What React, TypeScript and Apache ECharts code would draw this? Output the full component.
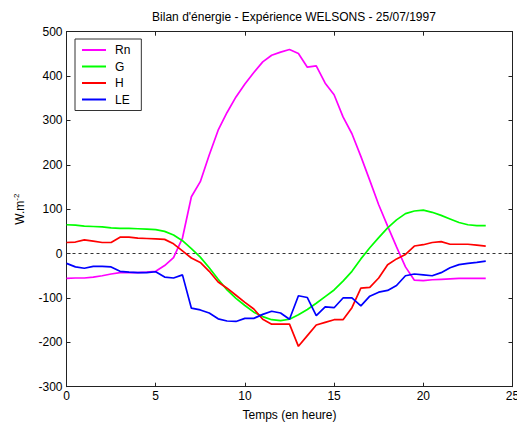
import { useEffect, useRef } from "react";
import * as echarts from "echarts";

const TIME = [
  0, 0.5, 1, 1.5, 2, 2.5, 3, 3.5, 4, 4.5, 5, 5.5, 6, 6.5, 7, 7.5, 8, 8.5, 9, 9.5,
  10, 10.5, 11, 11.5, 12, 12.5, 13, 13.5, 14, 14.5, 15, 15.5, 16, 16.5, 17, 17.5,
  18, 18.5, 19, 19.5, 20, 20.5, 21, 21.5, 22, 22.5, 23, 23.5,
];

const RN = [
  -56, -55, -55, -53, -50, -46, -43, -43, -43, -42, -40, -27, -9, 35, 128, 162,
  222, 278, 318, 353, 382, 408, 432, 447, 454, 460, 451, 420, 423, 384, 358, 308,
  270, 219, 165, 110, 62, 15, -30, -60, -61, -59, -58, -57, -56, -56, -56, -56,
];

const G = [
  65, 64, 62, 61, 60, 58, 57, 57, 56, 55, 54, 50, 42, 29, 11, -8, -32, -58, -82,
  -101, -117, -132, -142, -149, -151, -148, -138, -126, -112, -97, -82, -62, -40,
  -12, 13, 36, 58, 76, 90, 96, 98, 93, 86, 78, 70, 65, 63, 63,
];

const H = [
  25, 26, 31, 28, 25, 25, 37, 37, 35, 34, 33, 32, 22, 6, -10, -20, -40, -64, -78,
  -94, -110, -125, -148, -159, -159, -159, -209, -185, -161, -155, -149, -149,
  -122, -78, -76, -55, -25, -12, -2, 17, 20, 25, 27, 21, 21, 21, 19, 17,
];

const LE = [
  -22, -30, -33, -29, -29, -30, -40, -42, -43, -43, -41, -53, -55, -48, -123,
  -127, -134, -147, -152, -153, -146, -146, -137, -130, -134, -148, -95, -99,
  -140, -120, -122, -100, -100, -118, -96, -87, -83, -72, -50, -46, -48, -50,
  -43, -32, -25, -22, -20, -17,
];

const X_TICKS = [0, 5, 10, 15, 20, 25];
const Y_TICKS = [-300, -200, -100, 0, 100, 200, 300, 400, 500];

const FONT = "Liberation Sans";

export default function App() {
  const ref = useRef<HTMLDivElement>(null);
  useEffect(() => {
    const chart = echarts.init(ref.current!, null, { renderer: "svg" });
    const mk = (name: string, color: string, vals: number[], extra: any = {}) => ({
      type: "line",
      name,
      data: TIME.map((t, i) => [t, vals[i]]),
      symbol: "none",
      showSymbol: false,
      lineStyle: { color, width: 1.7 },
      itemStyle: { color },
      z: 3,
      ...extra,
    });
    const axisCommon = {
      axisLine: { show: true, onZero: false, lineStyle: { color: "#222", width: 1 } },
      axisTick: { show: true, inside: true, length: 4, lineStyle: { color: "#222" } },
      splitLine: { show: false },
    };
    chart.setOption({
      animation: false,
      backgroundColor: "#fff",
      title: {
        text: "Bilan d'énergie - Expérience WELSONS - 25/07/1997",
        left: 289,
        textAlign: "center",
        top: 6,
        textStyle: { fontFamily: FONT, fontSize: 12, fontWeight: "normal", color: "#000" },
      },
      legend: {
        left: 75,
        top: 39,
        orient: "vertical",
        data: ["Rn", "G", "H", "LE"],
        icon: "rect",
        borderColor: "#333",
        borderWidth: 1,
        padding: [4, 11, 4, 7],
        itemWidth: 24,
        itemHeight: 2,
        itemGap: 2.5,
        backgroundColor: "#fff",
        textStyle: {
          fontFamily: FONT,
          fontSize: 12,
          lineHeight: 14,
          color: "#000",
          padding: [0, 0, 0, 4],
        },
      },
      grid: {
        left: 66.5,
        right: 4.5,
        top: 31.7,
        bottom: 36.3,
        containLabel: false,
        outerBoundsMode: "none",
      },
      xAxis: [
        {
          type: "value",
          min: 0,
          max: 25,
          interval: 5,
          position: "bottom",
          ...axisCommon,
          axisLabel: {
            fontFamily: FONT,
            fontSize: 12,
            color: "#000",
            margin: 3,
            customValues: X_TICKS,
          },
          name: "Temps (en heure)",
          nameLocation: "middle",
          nameGap: 22,
          nameTextStyle: { fontFamily: FONT, fontSize: 12, color: "#000" },
        },
        {
          type: "value",
          min: 0,
          max: 25,
          interval: 5,
          position: "top",
          ...axisCommon,
          axisLabel: { show: false },
        },
      ],
      yAxis: [
        {
          type: "value",
          min: -300,
          max: 500,
          interval: 100,
          position: "left",
          ...axisCommon,
          axisLabel: {
            fontFamily: FONT,
            fontSize: 12,
            color: "#000",
            margin: 4,
            customValues: Y_TICKS,
          },
          name: "W.m{sup|-2}",
          nameLocation: "middle",
          nameGap: 40,
          nameRotate: 90,
          nameTextStyle: {
            fontFamily: FONT,
            fontSize: 12,
            color: "#000",
            rich: {
              sup: { fontFamily: FONT, fontSize: 8, color: "#000", verticalAlign: "top", padding: [0, 0, 6, 0] },
            },
          },
        },
        {
          type: "value",
          min: -300,
          max: 500,
          interval: 100,
          position: "right",
          ...axisCommon,
          axisLabel: { show: false },
        },
      ],
      series: [
        mk("Rn", "#ff00ff", RN, {
          markLine: {
            silent: true,
            symbol: ["none", "none"],
            label: { show: false },
            lineStyle: { color: "#333", type: [3, 3], width: 1 },
            data: [{ yAxis: 0 }],
            z: 1,
          },
        }),
        mk("G", "#00ff00", G),
        mk("H", "#ff0000", H),
        mk("LE", "#0000ff", LE),
      ],
    });
    return () => chart.dispose();
  }, []);
  return (
    <div
      ref={ref}
      style={{ position: "absolute", left: 0, top: 0, width: 517, height: 423 }}
    />
  );
}
